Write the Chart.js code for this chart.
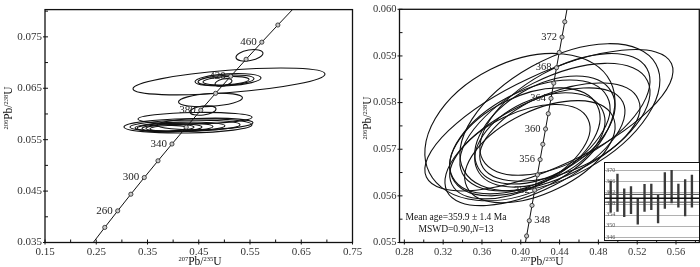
<!DOCTYPE html>
<html>
<head>
<meta charset="utf-8">
<script src="https://cdn.jsdelivr.net/npm/chart.js@4.4.0/dist/chart.umd.min.js"></script>
<style>
  html, body { margin: 0; padding: 0; background: #fff; }
  #wrap { position: relative; width: 700px; height: 267px; overflow: hidden; }
  canvas { position: absolute; top: 0; }
  #left { left: 0; }
  #right { left: 360px; }
  #inset { left: 604px; top: 162px; }
</style>
</head>
<body>
<div id="wrap">
  <canvas id="left" width="370" height="267"></canvas>
  <canvas id="right" width="340" height="267"></canvas>
  <canvas id="inset" width="96" height="79"></canvas>
</div>
<script>
const SERIF = '"Liberation Serif", "Times New Roman", serif';
const INK = '#111';

// ---------- left panel: concordia points (age Ma, 207Pb/235U, 206Pb/238U)
const leftAges = [220, 240, 260, 280, 300, 320, 340, 360, 380, 400, 420, 440, 460, 480, 500];
const leftCX = [0.24193, 0.26664, 0.29183, 0.31753, 0.34374, 0.37047, 0.39773, 0.42553, 0.45389, 0.48281, 0.51231, 0.54239, 0.57307, 0.60437, 0.63628];
const leftCY = [0.034717, 0.037932, 0.041157, 0.044392, 0.047637, 0.050893, 0.054158, 0.057434, 0.060720, 0.064016, 0.067322, 0.070638, 0.073965, 0.077302, 0.080650];
const leftMarked = [240, 260, 280, 300, 320, 340, 360, 380, 400, 420, 440, 460, 480];
const leftLabelled = [260, 300, 340, 380, 420, 460];

// left error ellipses: centre, half width, half height, correlation
const leftEx = [0.5490, 0.5090, 0.5071, 0.5032, 0.5032, 0.4983, 0.4729, 0.4583, 0.4427, 0.4290, 0.4232, 0.4134, 0.4037, 0.3978, 0.3939, 0.3900, 0.4622];
const leftEy = [0.07141, 0.06633, 0.06665, 0.06656, 0.06647, 0.06613, 0.06273, 0.06068, 0.05918, 0.05769, 0.05769, 0.05750, 0.05741, 0.05732, 0.05732, 0.05722, 0.05806];
const leftSx = [0.0263, 0.1873, 0.0644, 0.0546, 0.0449, 0.0166, 0.0624, 0.0254, 0.1112, 0.1249, 0.1073, 0.0878, 0.0741, 0.0585, 0.0468, 0.0351, 0.0937];
const leftSy = [0.00112, 0.00261, 0.00121, 0.00103, 0.00084, 0.00075, 0.00131, 0.00093, 0.00112, 0.00140, 0.00112, 0.00093, 0.00084, 0.00075, 0.00065, 0.00056, 0.00112];
const leftRho = [0.35, 0.55, 0.3, 0.3, 0.3, 0.4, 0.3, 0.3, 0.15, 0.15, 0.2, 0.2, 0.2, 0.2, 0.2, 0.2, 0.2];

const leftXTicks = [0.15, 0.20, 0.25, 0.30, 0.35, 0.40, 0.45, 0.50, 0.55, 0.60, 0.65, 0.70, 0.75];
const leftXLabels = ['0.15', '', '0.25', '', '0.35', '', '0.45', '', '0.55', '', '0.65', '', '0.75'];
const leftYTicks = [0.035, 0.040, 0.045, 0.050, 0.055, 0.060, 0.065, 0.070, 0.075, 0.080];
const leftYLabels = ['0.035', '', '0.045', '', '0.055', '', '0.065', '', '0.075', ''];

// ---------- right panel
const rightAges = [344, 346, 348, 350, 352, 354, 356, 358, 360, 362, 364, 366, 368, 370, 372, 374, 376];
const rightCX = [0.403247, 0.406013, 0.408785, 0.411563, 0.414345, 0.417134, 0.419928, 0.422728, 0.425533, 0.428344, 0.431160, 0.433982, 0.436809, 0.439642, 0.442480, 0.445324, 0.448173];
const rightCY = [0.054812, 0.055140, 0.055467, 0.055795, 0.056122, 0.056450, 0.056778, 0.057106, 0.057434, 0.057762, 0.058090, 0.058418, 0.058747, 0.059075, 0.059404, 0.059733, 0.060062];
const rightMarked = [346, 348, 350, 352, 354, 356, 358, 360, 362, 364, 366, 368, 370, 372, 374];
const rightLabelled = [348, 352, 356, 360, 364, 368, 372];
const rightLabelRight = [348];

const rightEx = [0.4290, 0.4403, 0.3991, 0.4146, 0.4197, 0.4352, 0.4094, 0.4249, 0.4042, 0.4403, 0.4197, 0.3991, 0.4455];
const rightEy = [0.057621, 0.057684, 0.057474, 0.057053, 0.056947, 0.057474, 0.057263, 0.057411, 0.057158, 0.057368, 0.057200, 0.056947, 0.057747];
const rightSx = [0.1279, 0.1031, 0.0980, 0.0928, 0.0774, 0.0980, 0.0825, 0.0722, 0.0774, 0.0825, 0.0670, 0.0722, 0.0877];
const rightSy = [0.001516, 0.001579, 0.001579, 0.001263, 0.001095, 0.001368, 0.001221, 0.001158, 0.001158, 0.001053, 0.001011, 0.001011, 0.001305];
const rightRho = [0.7, 0.5, 0.35, 0.6, 0.5, 0.55, 0.5, 0.45, 0.45, 0.5, 0.4, 0.5, 0.55];

const rightXTicks = [0.28, 0.30, 0.32, 0.34, 0.36, 0.38, 0.40, 0.42, 0.44, 0.46, 0.48, 0.50, 0.52, 0.54, 0.56, 0.58];
const rightXLabels = ['0.28', '', '0.32', '', '0.36', '', '0.40', '', '0.44', '', '0.48', '', '0.52', '', '0.56', ''];
const rightYTicks = [0.0550, 0.0555, 0.0560, 0.0565, 0.0570, 0.0575, 0.0580, 0.0585, 0.0590, 0.0595, 0.0600];
const rightYLabels = ['0.055', '', '0.056', '', '0.057', '', '0.058', '', '0.059', '', '0.060'];

// ---------- inset: spot ages (Ma), low/high of each bar
const spotLow  = [354.9, 355.2, 353.3, 354.4, 350.6, 355.2, 355.8, 351.1, 356.3, 358.2, 356.7, 353.6, 356.7];
const spotHigh = [366.0, 368.6, 363.3, 364.1, 359.7, 364.9, 365.0, 361.1, 369.1, 369.9, 365.0, 366.6, 368.2];
const insetTicks = [346, 350, 354, 358, 362, 366, 370];
const meanAge = 359.9;
const meanErr = 1.4;

// ---------- helpers
function isoText(ctx, x, y, parts, rotate) {
  ctx.save();
  ctx.translate(x, y);
  if (rotate) ctx.rotate(-Math.PI / 2);
  ctx.fillStyle = INK;
  ctx.textBaseline = 'alphabetic';
  ctx.textAlign = 'left';
  const fontOf = p => p.sup ? `6.5px ${SERIF}` : `11.5px ${SERIF}`;
  const widths = parts.map(p => { ctx.font = fontOf(p); return ctx.measureText(p.t).width; });
  let cur = -widths.reduce((s, w) => s + w, 0) / 2;
  parts.forEach((p, i) => {
    ctx.font = fontOf(p);
    ctx.fillText(p.t, cur, p.sup ? -4.5 : 0);
    cur += widths[i];
  });
  ctx.restore();
}
const title207 = [{t: '207', sup: true}, {t: 'Pb/'}, {t: '235', sup: true}, {t: 'U'}];
const title206 = [{t: '206', sup: true}, {t: 'Pb/'}, {t: '238', sup: true}, {t: 'U'}];

// frame, tick marks, ellipses, concordia labels and axis titles
const concordiaDecor = {
  id: 'concordiaDecor',
  beforeDatasetsDraw(chart, args, opt) {
    const {ctx, chartArea: a, scales: {x, y}} = chart;
    ctx.save();
    ctx.beginPath();
    ctx.rect(a.left, a.top, a.right - a.left, a.bottom - a.top);
    ctx.clip();
    ctx.strokeStyle = INK;
    ctx.lineWidth = 1.1;
    const e = opt.ellipses;
    for (let i = 0; i < e.x.length; i++) {
      const px = x.getPixelForValue(e.x[i]), py = y.getPixelForValue(e.y[i]);
      const hx = Math.abs(x.getPixelForValue(e.x[i] + e.sx[i]) - px);
      const hy = Math.abs(y.getPixelForValue(e.y[i] + e.sy[i]) - py);
      const cxx = hx * hx, cyy = hy * hy, cxy = -e.rho[i] * hx * hy;
      const m = (cxx + cyy) / 2, d = Math.sqrt(((cxx - cyy) / 2) ** 2 + cxy * cxy);
      const theta = 0.5 * Math.atan2(2 * cxy, cxx - cyy);
      ctx.beginPath();
      ctx.ellipse(px, py, Math.sqrt(m + d), Math.sqrt(Math.max(m - d, 0.01)), theta, 0, Math.PI * 2);
      ctx.stroke();
    }
    ctx.restore();
  },
  afterDatasetsDraw(chart, args, opt) {
    const {ctx, chartArea: a, scales: {x, y}} = chart;
    ctx.save();
    // age labels on the concordia
    ctx.font = `${opt.ageFont}px ${SERIF}`;
    ctx.fillStyle = '#222';
    ctx.textBaseline = 'middle';
    opt.ages.forEach((age, i) => {
      if (!opt.labelled.includes(age)) return;
      const px = x.getPixelForValue(opt.cx[i]), py = y.getPixelForValue(opt.cy[i]);
      const right = opt.labelRight.includes(age);
      ctx.textAlign = right ? 'left' : 'right';
      ctx.fillText(String(age), right ? px + 5 : px - 5, py);
    });
    // frame
    ctx.strokeStyle = INK;
    ctx.lineWidth = 1.3;
    ctx.strokeRect(a.left, a.top, a.right - a.left, a.bottom - a.top);
    // tick marks
    ctx.lineWidth = 1;
    x.ticks.forEach(t => {
      const p = x.getPixelForValue(t.value);
      const major = t.label !== '';
      ctx.beginPath();
      ctx.moveTo(p, a.bottom + (major ? 2 : 0));
      ctx.lineTo(p, a.bottom - 3);
      ctx.stroke();
    });
    y.ticks.forEach(t => {
      const p = y.getPixelForValue(t.value);
      const major = t.label !== '';
      ctx.beginPath();
      ctx.moveTo(a.left - (major ? 2 : 0), p);
      ctx.lineTo(a.left + 3, p);
      ctx.stroke();
    });
    ctx.restore();
    // axis titles
    isoText(ctx, opt.xTitle[0], opt.xTitle[1], title207, false);
    isoText(ctx, opt.yTitle[0], opt.yTitle[1], title206, true);
    if (opt.note) opt.note(ctx);
  }
};

function concordiaChart(id, cfg) {
  const tickFont = {family: SERIF, size: cfg.tickSize};
  return new Chart(document.getElementById(id), {
    type: 'scatter',
    data: {
      datasets: [{
        data: cfg.cx.map((v, i) => ({x: v, y: cfg.cy[i]})),
        showLine: true,
        borderColor: INK,
        borderWidth: 1,
        pointRadius: cfg.ages.map(a => cfg.marked.includes(a) ? 2.1 : 0),
        pointBackgroundColor: '#c8c8c8',
        pointBorderColor: '#222',
        pointBorderWidth: 0.8
      }]
    },
    options: {
      responsive: false,
      animation: false,
      devicePixelRatio: 1,
      layout: {padding: cfg.padding, autoPadding: false},
      plugins: {
        legend: {display: false},
        tooltip: {enabled: false},
        concordiaDecor: {
          ages: cfg.ages, cx: cfg.cx, cy: cfg.cy,
          labelled: cfg.labelled, labelRight: cfg.labelRight || [],
          ageFont: cfg.ageFont,
          ellipses: cfg.ellipses,
          xTitle: cfg.xTitle, yTitle: cfg.yTitle,
          note: cfg.note
        }
      },
      scales: {
        x: {
          type: 'linear', min: cfg.xMin, max: cfg.xMax,
          grid: {display: false, drawTicks: false}, border: {display: false},
          afterBuildTicks: s => { s.ticks = cfg.xTicks.map(v => ({value: v})); },
          afterFit: s => { s.height = cfg.xAxisH; },
          ticks: {autoSkip: false, maxRotation: 0, padding: 3, font: tickFont, color: '#333',
                  callback: (v, i) => cfg.xLabels[i]}
        },
        y: {
          type: 'linear', min: cfg.yMin, max: cfg.yMax,
          grid: {display: false, drawTicks: false}, border: {display: false},
          afterBuildTicks: s => { s.ticks = cfg.yTicks.map(v => ({value: v})); },
          afterFit: s => { s.width = cfg.yAxisW; },
          ticks: {autoSkip: false, padding: 3, font: tickFont, color: '#333',
                  callback: (v, i) => cfg.yLabels[i]}
        }
      }
    },
    plugins: [concordiaDecor]
  });
}

concordiaChart('left', {
  ages: leftAges, cx: leftCX, cy: leftCY, marked: leftMarked, labelled: leftLabelled,
  ellipses: {x: leftEx, y: leftEy, sx: leftSx, sy: leftSy, rho: leftRho},
  xMin: 0.15, xMax: 0.75, yMin: 0.035, yMax: 0.0803,
  xTicks: leftXTicks, xLabels: leftXLabels, yTicks: leftYTicks, yLabels: leftYLabels,
  padding: {left: 0, right: 17.5, top: 1, bottom: 0},
  xAxisH: 24.5, yAxisW: 45, tickSize: 11, ageFont: 11,
  xTitle: [200, 265], yTitle: [12, 108]
});

concordiaChart('right', {
  ages: rightAges, cx: rightCX, cy: rightCY, marked: rightMarked, labelled: rightLabelled,
  labelRight: rightLabelRight,
  ellipses: {x: rightEx, y: rightEy, sx: rightSx, sy: rightSy, rho: rightRho},
  xMin: 0.275, xMax: 0.584, yMin: 0.055, yMax: 0.060,
  xTicks: rightXTicks, xLabels: rightXLabels, yTicks: rightYTicks, yLabels: rightYLabels,
  padding: {left: 0, right: 0.7, top: 4.5, bottom: 0},
  xAxisH: 24.5, yAxisW: 39.5, tickSize: 10.5, ageFont: 10.5,
  xTitle: [182, 265], yTitle: [11, 118],
  note(ctx) {
    ctx.save();
    ctx.fillStyle = INK;
    ctx.textBaseline = 'middle';
    ctx.textAlign = 'center';
    const f = `9.5px ${SERIF}`, fi = `italic 9.5px ${SERIF}`, cx = 96;
    ctx.font = f;
    ctx.fillText(`Mean age=${meanAge} ± ${meanErr} Ma`, cx, 217);
    const a = 'MSWD=0.90,', n = 'N', b = '=13';
    ctx.textAlign = 'left';
    const wa = ctx.measureText(a).width, wb = ctx.measureText(b).width;
    ctx.font = fi;
    const wn = ctx.measureText(n).width;
    const x0 = cx - (wa + wn + wb) / 2;
    ctx.font = f;
    ctx.fillText(a, x0, 229);
    ctx.font = fi;
    ctx.fillText(n, x0 + wa, 229);
    ctx.font = f;
    ctx.fillText(b, x0 + wa + wn, 229);
    ctx.restore();
  }
});

// ---------- inset: weighted mean plot
const insetDecor = {
  id: 'insetDecor',
  beforeDraw(chart) {
    const {ctx, width, height, scales: {y}} = chart;
    ctx.save();
    ctx.fillStyle = '#fff';
    ctx.fillRect(0, 0, width, height);
    ctx.strokeStyle = '#a8a8a8';
    ctx.lineWidth = 0.9;
    insetTicks.forEach(v => {
      const p = Math.round(y.getPixelForValue(v)) + 0.5;
      ctx.beginPath(); ctx.moveTo(0, p); ctx.lineTo(width, p); ctx.stroke();
    });
    ctx.restore();
  },
  afterDatasetsDraw(chart) {
    const {ctx, width, height, scales: {y}} = chart;
    ctx.save();
    ctx.strokeStyle = '#444';
    ctx.lineWidth = 1;
    [meanAge - meanErr, meanAge + meanErr].forEach(v => {
      const p = y.getPixelForValue(v);
      ctx.beginPath(); ctx.moveTo(0, p); ctx.lineTo(width, p); ctx.stroke();
    });
    ctx.strokeStyle = INK;
    ctx.lineWidth = 1.6;
    const pm = y.getPixelForValue(meanAge);
    ctx.beginPath(); ctx.moveTo(0, pm); ctx.lineTo(width, pm); ctx.stroke();
    ctx.lineWidth = 1;
    ctx.strokeRect(0.5, 0.5, width - 1, height - 1);
    ctx.restore();
  }
};

new Chart(document.getElementById('inset'), {
  type: 'bar',
  data: {
    labels: spotLow.map((v, i) => String(i + 1)),
    datasets: [{
      data: spotLow.map((v, i) => [v, spotHigh[i]]),
      backgroundColor: '#3a3a3a',
      barThickness: 1.7
    }]
  },
  options: {
    responsive: false,
    animation: false,
    devicePixelRatio: 1,
    layout: {padding: {left: 3.3, right: 4.7, top: 0, bottom: 0}, autoPadding: false},
    plugins: {legend: {display: false}, tooltip: {enabled: false}},
    scales: {
      x: {display: false},
      y: {
        min: 345.5, max: 372,
        grid: {display: false, drawTicks: false}, border: {display: false},
        afterBuildTicks: s => { s.ticks = insetTicks.map(v => ({value: v})); },
        afterFit: s => { s.width = 0; },
        ticks: {mirror: true, padding: -1, font: {family: SERIF, size: 6}, color: '#555'}
      }
    }
  },
  plugins: [insetDecor]
});
</script>
</body>
</html>
